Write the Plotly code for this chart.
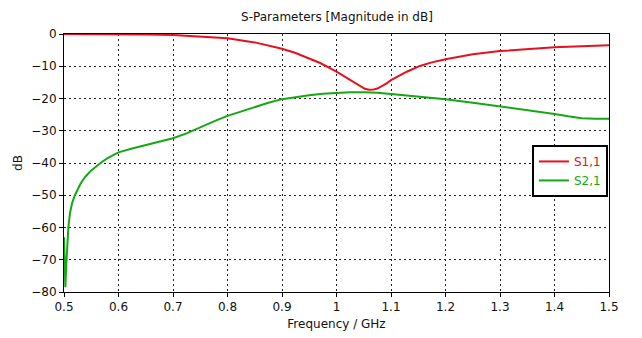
import plotly.graph_objects as go

# S1,1 (red)
f_s11 = [0.5, 0.55, 0.6, 0.65, 0.7, 0.75, 0.8, 0.85, 0.9, 0.925, 0.95, 0.97,
         1.0, 1.031, 1.045, 1.052, 1.06, 1.068, 1.075, 1.085, 1.092, 1.1, 1.129,
         1.153, 1.175, 1.2, 1.25, 1.3, 1.35, 1.4, 1.45, 1.5]
s11 = [0.0, 0.0, -0.05, -0.15, -0.3, -0.7, -1.3, -2.6, -4.6, -5.9, -7.5, -9.0,
       -11.7, -14.8, -16.4, -17.0, -17.25, -17.2, -16.9, -16.1, -15.3, -14.3, -11.7,
       -9.9, -8.8, -7.8, -6.3, -5.3, -4.6, -4.1, -3.8, -3.5]

# S2,1 (green)
f_s21 = [0.5, 0.5015, 0.5025, 0.504, 0.506, 0.508, 0.511, 0.515, 0.52, 0.525,
         0.53, 0.535, 0.54, 0.55, 0.56, 0.57, 0.58, 0.59, 0.6, 0.625, 0.65, 0.675,
         0.7, 0.725, 0.75, 0.775, 0.8, 0.825, 0.85, 0.875, 0.9, 0.925, 0.95, 0.975,
         1.0, 1.025, 1.05, 1.075, 1.1, 1.15, 1.2, 1.25, 1.3, 1.35, 1.4, 1.425,
         1.45, 1.475, 1.5]
s21 = [-63.0, -72.0, -78.5, -72.0, -65.0, -60.0, -55.5, -52.3, -50.0, -48.1,
       -46.5, -45.2, -44.1, -42.3, -40.8, -39.6, -38.5, -37.5, -36.7, -35.5, -34.4, -33.4,
       -32.3, -30.8, -28.9, -27.1, -25.4, -24.0, -22.7, -21.3, -20.2, -19.5, -19.0, -18.5,
       -18.2, -18.1, -18.1, -18.2, -18.6, -19.3, -20.2, -21.3, -22.4, -23.6, -24.8, -25.5,
       -26.1, -26.3, -26.3]

x_ticks = [0.5, 0.6, 0.7, 0.8, 0.9, 1.0, 1.1, 1.2, 1.3, 1.4, 1.5]
x_tick_labels = ["0.5", "0.6", "0.7", "0.8", "0.9", "1", "1.1", "1.2", "1.3", "1.4", "1.5"]
y_ticks = [0, -10, -20, -30, -40, -50, -60, -70, -80]

RED = "#e8101e"
GREEN = "#14a814"
FONT = "DejaVu Sans"

fig = go.Figure()
fig.add_trace(go.Scatter(x=f_s11, y=s11, mode="lines",
                         line=dict(color=RED, width=2),
                         name=f'<span style="color:{RED}">S1,1</span>'))
fig.add_trace(go.Scatter(x=f_s21, y=s21, mode="lines", line=dict(color=GREEN, width=2),
                         name=f'<span style="color:{GREEN}">S2,1</span>'))

axis_common = dict(
    showline=True, linecolor="black", linewidth=1, mirror=True,
    showgrid=True, gridcolor="#222222", gridwidth=1, griddash="2px,3px",
    zeroline=False, ticks="outside", ticklen=4, tickcolor="black",
    tickfont=dict(family=FONT, size=12, color="#111"),
)

# page body has an 8px margin, so the figure is offset by (8, 8)
fig.update_layout(
    width=634, height=330,
    margin=dict(l=56, r=33, t=26, b=46),
    paper_bgcolor="white", plot_bgcolor="white",
    font=dict(family=FONT, size=12, color="#111"),
    title=dict(text="S-Parameters [Magnitude in dB]", x=(337 - 8) / 634, xanchor="center",
               y=1 - 9 / 330, yanchor="middle", font=dict(family=FONT, size=12, color="#111")),
    xaxis=dict(range=[0.5, 1.5], tickvals=x_ticks, ticktext=x_tick_labels,
               title=dict(text="Frequency / GHz", standoff=6, font=dict(family=FONT, size=12)),
               automargin=False, **axis_common),
    yaxis=dict(range=[-80, 0], tickvals=y_ticks,
               title=dict(text="dB", standoff=6, font=dict(family=FONT, size=12)),
               automargin=False, **axis_common),
    legend=dict(x=0.998, xanchor="right", y=0.57, yanchor="top",
                bgcolor="white", bordercolor="black", borderwidth=2,
                font=dict(family=FONT, size=12), itemwidth=30,
                tracegroupgap=0),
    showlegend=True,
)

fig.write_html("out.html")
